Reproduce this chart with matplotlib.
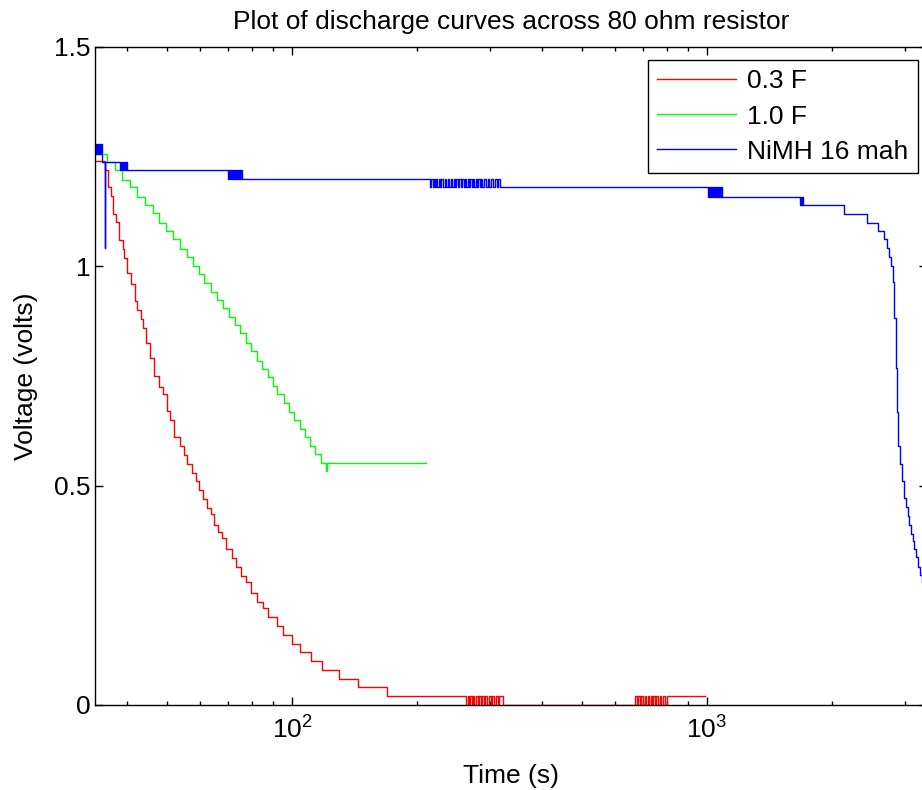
import numpy as np
import matplotlib
matplotlib.use('Agg')
from matplotlib import pyplot as plt

plt.rcParams['font.family'] = ['Liberation Sans', 'DejaVu Sans']

# 0.3 F cap: time (s) where the reading changes, and the new reading (V)
red_t = [33.5, 35.4, 36.0, 36.6, 37.1, 37.7, 38.3, 39.2, 39.4, 40.0, 40.9, 41.9, 42.3, 43.3, 43.8,
         44.5, 45.5, 46.5, 47.8, 48.9, 50.0, 50.8, 52.0, 53.7, 54.9, 55.9, 57.4, 58.7, 59.7, 61.0,
         62.4, 63.8, 64.9, 66.3, 67.8, 69.3, 71.7, 73.3, 75.4, 77.5, 79.6, 82.3, 85.1, 87.5, 92.0,
         95.1, 100, 104.5, 111, 118, 130, 144, 169, 990]
red_v = [1.24, 1.22, 1.18, 1.16, 1.12, 1.10, 1.06, 1.04, 1.02, 0.985, 0.96, 0.92, 0.90, 0.88, 0.86,
         0.825, 0.79, 0.75, 0.725, 0.71, 0.67, 0.65, 0.61, 0.59, 0.57, 0.55, 0.53, 0.51, 0.49, 0.47,
         0.45, 0.435, 0.41, 0.395, 0.38, 0.355, 0.335, 0.315, 0.295, 0.28, 0.255, 0.235, 0.22, 0.2, 0.18,
         0.16, 0.14, 0.12, 0.10, 0.08, 0.06, 0.04, 0.02, 0.02]
# spots where the last bit flickers: (toggle times, level it ends on, other level)
red_flicker = [
    ([263, 265, 267, 269, 271, 273, 275, 277, 280, 282, 285, 287, 290, 292, 295, 298, 301, 304,
      307, 310, 313, 316, 322], 0.0, 0.02),
    ([671, 677, 683, 689, 695, 701, 707, 713, 719, 725, 731, 737, 743, 749, 755, 762, 769, 776,
      783, 790, 801], 0.02, 0.0),
]

# 1.0 F cap
green_t = [33.5, 35.8, 37.5, 38.9, 40.7, 42.3, 44.2, 46.2, 47.8, 49.7, 51.7, 53.7, 55.9, 57.7, 59.7,
           61.4, 63.8, 66.0, 68.2, 70.5, 72.9, 74.9, 77.5, 79.6, 82.3, 84.7, 87.5, 90.0, 92.0, 95.7,
           98.4, 101.1, 104.5, 107.5, 110.5, 113.6, 117.4, 120.8, 121.3, 210.3]
green_v = [1.256, 1.238, 1.220, 1.197, 1.181, 1.158, 1.140, 1.122, 1.099, 1.081, 1.062, 1.040, 1.021, 1.001, 0.983,
           0.962, 0.941, 0.923, 0.905, 0.884, 0.866, 0.848, 0.825, 0.807, 0.784, 0.766, 0.748, 0.727, 0.709, 0.688,
           0.668, 0.650, 0.629, 0.611, 0.590, 0.572, 0.552, 0.533, 0.552, 0.552]
green_flicker = []

# NiMH 16 mah cell
blue_t = [34.85, 35.4, 35.5, 2138, 2430, 2582, 2670, 2715, 2746, 2776, 2807, 2822, 2854, 2869, 2885,
          2918, 2951, 2984, 3017, 3050, 3068, 3102, 3137, 3154, 3189, 3225, 3261, 3298, 3340, 3390]
blue_v = [1.238, 1.042, 1.238, 1.120, 1.098, 1.080, 1.062, 1.041, 1.021, 1.000, 0.964, 0.882, 0.768, 0.667, 0.591,
          0.550, 0.510, 0.471, 0.451, 0.431, 0.410, 0.390, 0.374, 0.355, 0.337, 0.314, 0.296, 0.28, 0.27, 0.27]
blue_flicker = [
    ([33.5, 33.7, 33.9, 34.1, 34.3, 34.5, 34.7], 1.279, 1.256),
    ([38.5, 38.7, 38.9, 39.1, 39.3, 39.5, 39.7, 39.85, 40.0], 1.220, 1.238),
    ([69.7, 70.1, 70.5, 70.9, 71.3, 71.7, 72.1, 72.5, 72.9, 73.3, 73.7, 74.1, 74.5, 74.9, 75.3, 75.8],
     1.199, 1.220),
    ([215, 216.5, 218, 219.5, 221, 222.5, 224, 225.5, 227, 229, 231, 233, 235, 237, 239, 241, 243, 245,
      247, 249, 251, 253, 255, 257, 259, 261, 263, 265, 267, 269, 271, 273, 275, 277, 279, 281, 283,
      285, 287, 290, 293, 296, 299, 302, 305, 308, 311, 314, 317], 1.180, 1.199),
    ([1000, 1005, 1010, 1015, 1020, 1025, 1030, 1035, 1040, 1045, 1050, 1055, 1060, 1065, 1070, 1075,
      1080, 1085], 1.158, 1.180),
    ([1675, 1682, 1689, 1696, 1703], 1.140, 1.158),
]

labels = ['0.3 F', '1.0 F', 'NiMH 16 mah']


def merge(knot_t, knot_v, flicker):
    t = list(knot_t)
    v = list(knot_v)
    for times, a, b in flicker:
        n = len(times)
        t += times
        # last toggle always lands on the first value (the new level)
        v += [a if (n - 1 - i) % 2 == 0 else b for i in range(n)]
    order = np.argsort(t, kind='stable')
    return np.array(t)[order], np.array(v)[order]


fig = plt.figure(figsize=(9.22, 7.90), dpi=100)
ax = fig.add_axes([95 / 922, 85 / 790, 832 / 922, 658 / 790])

for kt, kv, fl, col, lab in [(red_t, red_v, red_flicker, (1, 0, 0), labels[0]),
                             (green_t, green_v, green_flicker, (0, 1, 0), labels[1]),
                             (blue_t, blue_v, blue_flicker, (0, 0, 1), labels[2])]:
    t, v = merge(kt, kv, fl)
    ax.plot(t, v, drawstyle='steps-post', color=col, lw=1.0, label=lab)

ax.set_xscale('log')
ax.set_xlim(33.5, 3390)
ax.set_ylim(0, 1.5)
ax.set_yticks([0, 0.5, 1, 1.5])
ax.set_yticklabels(['0', '0.5', '1', '1.5'])

ax.tick_params(which='both', direction='in', top=True, right=True, labelsize=19, width=1.0)
ax.tick_params(axis='y', pad=3)
ax.tick_params(axis='x', pad=8)
ax.tick_params(which='major', length=6)
ax.tick_params(which='minor', length=3)
for s in ax.spines.values():
    s.set_linewidth(1.0)

ax.set_title('Plot of discharge curves across 80 ohm resistor', fontsize=19, pad=13)
ax.set_xlabel('Time (s)', fontsize=19, labelpad=15)
ax.set_ylabel('Voltage (volts)', fontsize=19, labelpad=12)

leg = ax.legend(loc='upper right', bbox_to_anchor=(918 / 922, 1 - 60 / 790), bbox_transform=fig.transFigure,
                fontsize=19, fancybox=False, edgecolor='black', framealpha=1, borderaxespad=0,
                handlelength=3.0, handletextpad=0.42, labelspacing=0.42, borderpad=0.36)
leg.get_frame().set_linewidth(1.0)

fig.savefig('out.png', dpi=100)
